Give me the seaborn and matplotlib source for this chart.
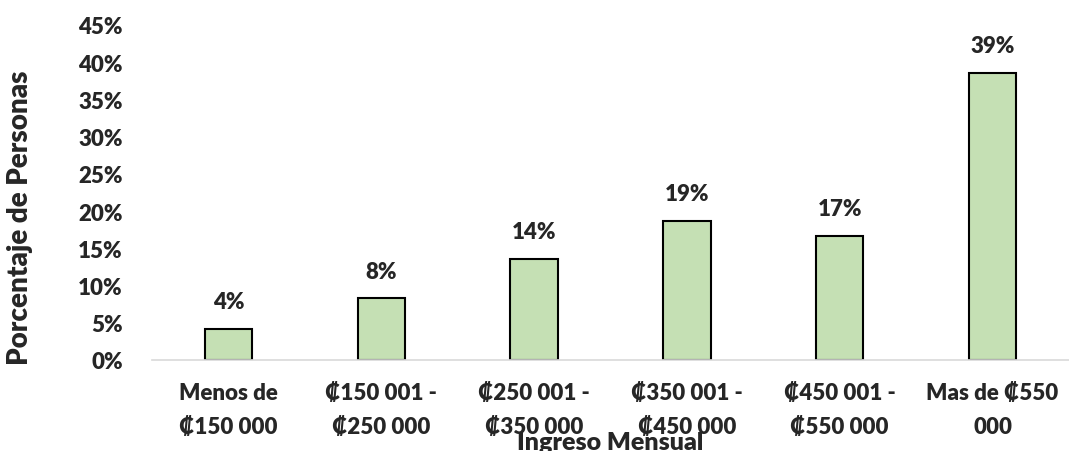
import matplotlib
matplotlib.use("Agg")
import matplotlib.pyplot as plt
import seaborn as sns
import pandas as pd
from matplotlib.ticker import PercentFormatter

categorias = ['Menos de\n₡150 000', '₡150 001 -\n₡250 000', '₡250 001 -\n₡350 000',
              '₡350 001 -\n₡450 000', '₡450 001 -\n₡550 000', 'Mas de ₡550\n000']
porcentajes = [0.042, 0.083, 0.136, 0.187, 0.167, 0.386]
etiquetas = ['4%', '8%', '14%', '19%', '17%', '39%']

sns.set_style('white')
plt.rcParams['font.family'] = ['Lato', 'DejaVu Sans']
peso = 'heavy'
fs = 16

df = pd.DataFrame({'Ingreso': categorias, 'Porcentaje': porcentajes})

fig = plt.figure(figsize=(10.69, 4.52), dpi=100)
ax = fig.add_axes([152 / 1069, 1 - 361 / 452, (1069 - 152) / 1069, (361 - 26) / 452])

sns.barplot(data=df, x='Ingreso', y='Porcentaje', color='#C5E0B4', saturation=1,
            edgecolor='black', linewidth=1.5, width=0.31, ax=ax)

for i, (v, t) in enumerate(zip(porcentajes, etiquetas)):
    ax.annotate(t, (i, v), xytext=(0, 12), textcoords='offset points',
                ha='center', va='bottom', fontsize=fs, fontweight=peso)

ax.set_ylim(0, 0.45)
ax.set_xlim(-0.5, 5.5)
ax.set_yticks([i * 0.05 for i in range(10)])
ax.yaxis.set_major_formatter(PercentFormatter(1.0, decimals=0))
ax.tick_params(axis='y', length=0, pad=21, labelsize=fs)
ax.tick_params(axis='x', length=0, pad=16, labelsize=fs)
for lab in ax.get_xticklabels() + ax.get_yticklabels():
    lab.set_fontweight(peso)
for lab in ax.get_xticklabels():
    lab.set_linespacing(1.75)

for s in ['top', 'right', 'left']:
    ax.spines[s].set_visible(False)
ax.spines['bottom'].set_color('#D9D9D9')
ax.spines['bottom'].set_linewidth(1.2)

ax.set_ylabel('Porcentaje de Personas', fontsize=20, fontweight=peso)
ax.yaxis.set_label_coords(-0.13, 0.427)
ax.set_xlabel('Ingreso Mensual', fontsize=18, fontweight=peso, va='baseline')
ax.xaxis.set_label_coords(0.5, -0.266)

fig.savefig('out.png', dpi=100)
